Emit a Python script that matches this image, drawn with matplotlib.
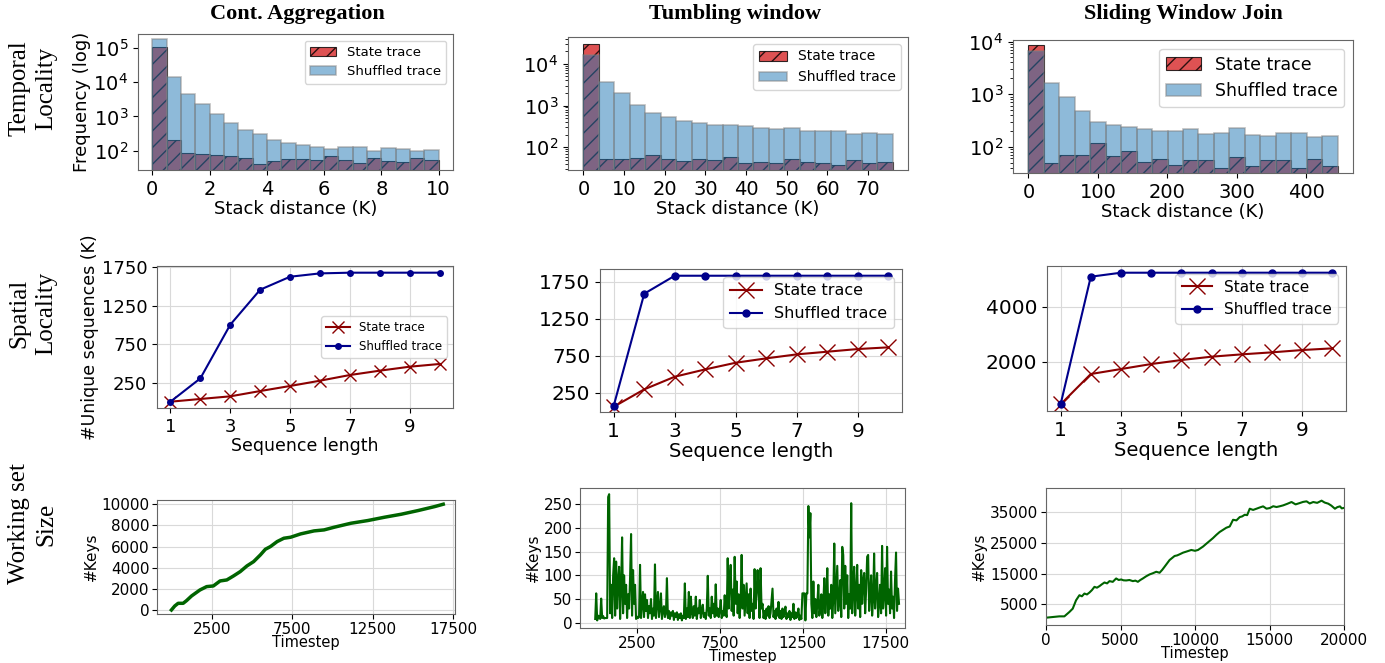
import numpy as np
import matplotlib
matplotlib.use("Agg")
import matplotlib.pyplot as plt
from matplotlib.ticker import LogLocator

# ---- row 1: stack distance histograms (20 bins each) ----
agg_bin = 0.5
agg_shuffled = [1.8e5, 1.4e4, 4500, 2300, 1200, 650, 390, 300, 200, 170,
                150, 125, 110, 125, 130, 100, 120, 110, 100, 105]
agg_state = [1.1e5, 200, 85, 80, 75, 70, 60, 40, 48, 55,
             55, 52, 68, 52, 42, 60, 50, 45, 60, 52]

tum_bin = 3.8
tum_shuffled = [1.64e4, 3700, 1950, 1050, 650, 520, 420, 390, 340, 340,
                320, 295, 280, 285, 245, 245, 250, 210, 220, 210]
tum_state = [2.96e4, 52, 53, 56, 66, 52, 47, 53, 50, 60,
             42, 45, 43, 53, 45, 42, 38, 50, 41, 45]

sli_bin = 22.27
sli_shuffled = [6650, 1650, 870, 480, 290, 260, 240, 220, 200, 195,
                220, 175, 180, 230, 165, 160, 180, 185, 150, 160]
sli_state = [8650, 48, 70, 70, 120, 66, 82, 52, 58, 45,
             55, 55, 40, 65, 43, 55, 57, 40, 58, 43]

# ---- row 2: unique sequences vs sequence length ----
seq_len = [1, 2, 3, 4, 5, 6, 7, 8, 9, 10]
agg_seq_state = [14, 49, 83, 151, 216, 284, 357, 413, 464, 499]
agg_seq_shuf = [14, 314, 1004, 1454, 1621, 1664, 1673, 1673, 1673, 1673]
tum_seq_state = [60, 295, 466, 565, 655, 714, 768, 804, 840, 863]
tum_seq_shuf = [74, 1588, 1831, 1831, 1831, 1831, 1831, 1831, 1831, 1831]
sli_seq_state = [449, 1552, 1733, 1915, 2061, 2182, 2267, 2340, 2424, 2485]
sli_seq_shuf = [449, 5091, 5236, 5236, 5236, 5236, 5236, 5236, 5236, 5236]

# ---- row 3: working set size ----
agg_ws_t = [0, 209, 417, 729, 938, 1250, 1771, 2188, 2604, 3021, 3438, 3854,
            4271, 4688, 5104, 5521, 5833, 6146, 6563, 6979, 7396, 8021, 8854,
            9479, 10104, 11146, 12188, 13229, 14271, 15313, 16354, 16875]
agg_ws_keys = [0, 379, 631, 631, 883, 1325, 1893, 2209, 2272, 2745, 2840, 3218,
               3628, 4165, 4575, 5206, 5742, 5995, 6468, 6784, 6878, 7194, 7478,
               7573, 7825, 8203, 8456, 8771, 9055, 9402, 9781, 10000]

tum_ws_step = 60
tum_ws_keys = [
    8, 62, 5, 15, 12, 8, 51, 10, 14, 9, 10, 10, 10, 265, 271, 20,
    80, 10, 100, 136, 15, 129, 30, 90, 118, 8, 75, 180, 20, 100, 40, 80,
    10, 60, 30, 95, 187, 15, 111, 40, 80, 8, 13, 10, 12, 122, 10, 40,
    65, 12, 60, 25, 48, 10, 35, 20, 50, 8, 30, 15, 123, 10, 40, 65,
    12, 30, 62, 8, 25, 35, 12, 20, 94, 10, 25, 8, 22, 15, 25, 6,
    20, 12, 22, 6, 18, 10, 20, 5, 15, 10, 83, 8, 30, 12, 65, 10,
    55, 20, 10, 35, 15, 55, 8, 30, 20, 48, 10, 25, 38, 12, 20, 8,
    30, 99, 15, 30, 10, 55, 20, 40, 12, 81, 15, 30, 12, 25, 48, 10,
    25, 15, 58, 20, 12, 136, 30, 90, 122, 25, 70, 15, 139, 40, 87, 20,
    60, 10, 45, 143, 30, 80, 15, 50, 83, 20, 60, 10, 72, 25, 40, 8,
    113, 30, 65, 111, 65, 10, 115, 30, 40, 10, 25, 8, 30, 15, 35, 10,
    20, 45, 72, 12, 25, 8, 30, 15, 44, 10, 25, 8, 30, 12, 22, 34,
    8, 20, 12, 25, 6, 20, 12, 40, 8, 22, 10, 18, 30, 6, 15, 8,
    62, 62, 62, 5, 62, 62, 246, 180, 231, 40, 10, 87, 20, 50, 12, 40,
    80, 15, 30, 60, 10, 40, 94, 20, 55, 115, 15, 60, 30, 80, 10, 50,
    167, 20, 70, 120, 25, 50, 90, 12, 160, 143, 30, 120, 40, 100, 10, 60,
    30, 252, 20, 80, 118, 15, 60, 122, 30, 80, 12, 111, 40, 90, 105, 20,
    70, 139, 143, 25, 60, 100, 15, 50, 146, 30, 70, 105, 12, 40, 80, 20,
    162, 30, 60, 115, 15, 160, 40, 70, 20, 108, 30, 55, 10, 90, 148, 25,
    72, 40]

sli_ws_t = [0, 448, 897, 1233, 1569, 1794, 2018, 2242, 2410, 2578, 2750, 2915,
            3080, 3251, 3420, 3587, 3750, 3924, 4100, 4260, 4480, 4708, 4880,
            5045, 5200, 5381, 5600, 5829, 6000, 6166, 6330, 6502, 6720, 6950,
            7170, 7399, 7623, 7800, 7959, 8295, 8631, 8800, 8968, 9200, 9416,
            9752, 10000, 10201, 10537, 10760, 10985, 11200, 11434, 11650, 11882,
            12100, 12330, 12554, 12780, 13003, 13170, 13339, 13500, 13675, 13900,
            14124, 14350, 14572, 14800, 15020, 15250, 15469, 15700, 15917, 16200,
            16478, 16750, 17038, 17250, 17487, 17700, 17935, 18200, 18496, 18700,
            18944, 19150, 19392, 19550, 19729, 19850, 19953]
sli_ws_keys = [636, 854, 1073, 1073, 2490, 3580, 6310, 7950, 7600, 8490, 8200, 8820,
               9600, 10670, 10400, 10900, 11500, 12090, 11800, 12530, 12300, 13400, 12900,
               13070, 12800, 12750, 12900, 12530, 12700, 12310, 12900, 13400, 14100, 14710,
               15100, 15580, 15260, 16200, 17220, 19400, 20710, 20900, 21260, 21800, 22130,
               22670, 22400, 22670, 23770, 24700, 25620, 26500, 27590, 28500, 29220,
               29900, 30310, 32490, 32300, 33370, 33600, 34130, 34000, 36090, 35700,
               36090, 36500, 36860, 36100, 36310, 36900, 36640, 36900, 37180, 37700,
               38270, 37500, 37950, 38300, 38490, 37800, 38270, 38000, 38710, 38100,
               37730, 37100, 36090, 36600, 36860, 36200, 36310]

titles = ["Cont. Aggregation", "Tumbling window", "Sliding Window Join"]
row_labels = ["Temporal\nLocality", "Spatial\nLocality", "Working set\nSize"]

W, H = 1385, 663
fig = plt.figure(figsize=(W / 100, H / 100), dpi=100)


def axes_px(left, top, right, bottom):
    return fig.add_axes([left / W, 1 - bottom / H, (right - left) / W, (bottom - top) / H])


def frame(ax):
    for s in ax.spines.values():
        s.set_edgecolor("0.4")


# titles and row labels
for cx, t in zip([297, 735, 1183], titles):
    fig.text(cx / W, 1 - 14 / H, t, ha="center", va="center",
             family="Liberation Serif", weight="bold", fontsize=16)
for cy, t in zip([88, 313, 524], row_labels):
    fig.text(33 / W, 1 - cy / H, t, ha="center", va="center", rotation=90,
             family="Liberation Serif", fontsize=18, linespacing=1.3)

# ---- row 1 ----
hist_specs = [
    ((138, 34, 453, 170), agg_bin, agg_state, agg_shuffled, (27, 2.6e5), range(0, 11, 2), 9.5),
    ((568, 37, 908, 170), tum_bin, tum_state, tum_shuffled, (28.5, 4.4e4), range(0, 71, 10), 10),
    ((1013, 40, 1353, 173), sli_bin, sli_state, sli_shuffled, (31.6, 1.07e4), range(0, 401, 100), 12.5),
]
for i, (pos, bw, st, sh, ylim, xt, lfs) in enumerate(hist_specs):
    ax = axes_px(*pos)
    left = np.arange(len(st)) * bw
    ax.bar(left, st, width=bw, align="edge", color="tab:red", alpha=0.8,
           hatch="//", edgecolor="black", linewidth=0.8, label="State trace")
    ax.bar(left, sh, width=bw, align="edge", color="tab:blue", alpha=0.5,
           edgecolor="grey", linewidth=1.2, label="Shuffled trace")
    ax.set_yscale("log")
    ax.yaxis.set_major_locator(LogLocator(base=10, numticks=10))
    ax.set_ylim(*ylim)
    ax.set_xticks(list(xt))
    ax.set_xlabel("Stack distance (K)", fontsize=13, labelpad=1)
    if i == 0:
        ax.set_ylabel("Frequency (log)", fontsize=13, labelpad=2)
    ax.tick_params(labelsize=14)
    ax.legend(loc="upper right", fontsize=lfs)
    frame(ax)

# ---- row 2 ----
seq_specs = [
    ((157, 266, 453, 408), agg_seq_state, agg_seq_shuf, (-67, 1759), [250, 750, 1250, 1750], 13, 12.5, 8.5, "center right"),
    ((600, 269, 902, 412), tum_seq_state, tum_seq_shuf, (-11, 1922), [250, 750, 1250, 1750], 14.5, 14, 11.5, "upper right"),
    ((1047, 266, 1346, 411), sli_seq_state, sli_seq_shuf, (207, 5480), [2000, 4000], 14.5, 14, 11, "upper right"),
]
for i, (pos, st, sh, ylim, yt, tfs, lbfs, lfs, loc) in enumerate(seq_specs):
    ax = axes_px(*pos)
    ax.plot(seq_len, st, color="darkred", marker="x", markersize=11 if i else 9,
            markeredgewidth=1, linewidth=1.5, label="State trace")
    ax.plot(seq_len, sh, color="darkblue", marker="o", markersize=5 if i else 4,
            linewidth=1.5, label="Shuffled trace")
    ax.set_ylim(*ylim)
    ax.set_yticks(yt)
    ax.set_xticks([1, 3, 5, 7, 9])
    ax.grid(True, color="0.85")
    ax.set_xlabel("Sequence length", fontsize=lbfs, labelpad=1)
    if i == 0:
        ax.set_ylabel("#Unique sequences (K)", fontsize=lbfs, labelpad=2)
    ax.tick_params(labelsize=tfs)
    ax.legend(loc=loc, fontsize=lfs)
    frame(ax)

# ---- row 3 ----
ax = axes_px(157, 500, 455, 614)
ax.plot(agg_ws_t, agg_ws_keys, color="darkgreen", linewidth=2.5)
ax.set_xlim(-895, 17605)
ax.set_ylim(-380, 10400)
ax.set_xticks([2500, 7500, 12500, 17500])
ax.set_yticks(range(0, 10001, 2000))

ax8 = axes_px(580, 488, 905, 628)
t8 = np.arange(len(tum_ws_keys)) * tum_ws_step
ax8.plot(t8, tum_ws_keys, color="darkgreen", linewidth=1.5)
ax8.set_xlim(-916, 18660)
ax8.set_ylim(-11, 284)
ax8.set_xticks([2500, 7500, 12500, 17500])
ax8.set_yticks(range(0, 251, 50))

ax9 = axes_px(1046, 488, 1344, 625)
ax9.plot(sli_ws_t, sli_ws_keys, color="darkgreen", linewidth=1.5)
ax9.set_xlim(0, 20000)
ax9.set_ylim(-1740, 42830)
ax9.set_xticks(range(0, 20001, 5000))
ax9.set_yticks([5000, 15000, 25000, 35000])

for a in (ax, ax8, ax9):
    a.grid(True, color="0.85")
    a.set_xlabel("Timestep", fontsize=10.5, labelpad=-1)
    a.set_ylabel("#Keys", fontsize=11, labelpad=2)
    a.tick_params(labelsize=11, pad=2)
    frame(a)

fig.savefig("out.png", dpi=100)
